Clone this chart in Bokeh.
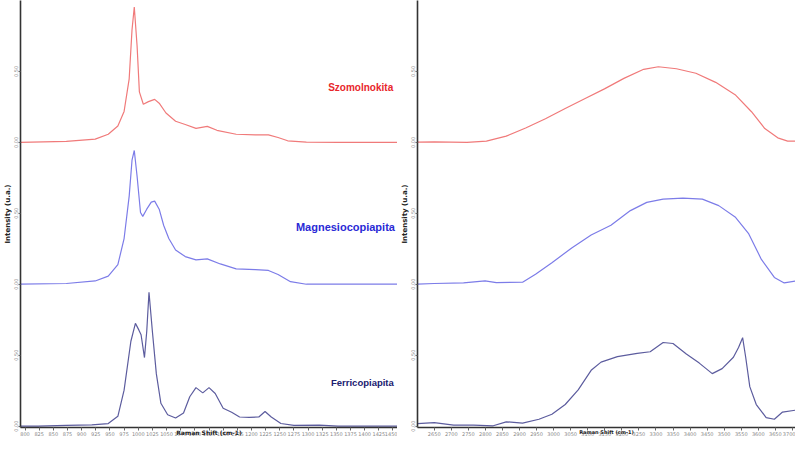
from bokeh.plotting import figure
from bokeh.models import Label, FixedTicker
from bokeh.layouts import row
from bokeh.embed import file_html
from bokeh.resources import INLINE

# ---------------- data (relative intensity, u.a.) ----------------
names = ["Szomolnokita", "Magnesiocopiapita", "Ferricopiapita"]
stack_offsets = [2.0, 1.0, 0.0]

# 800-1450 cm-1 region
szo_low_wn = [789, 873, 924, 947, 964, 975, 984, 989, 993, 998, 1002, 1009, 1018, 1029, 1037,
              1049, 1066, 1083, 1102, 1122, 1139, 1173, 1207, 1230, 1247, 1264, 1297, 1353, 1459]
szo_low_i = [0.000, 0.007, 0.023, 0.057, 0.115, 0.218, 0.448, 0.793, 0.954, 0.678, 0.356, 0.269,
             0.287, 0.303, 0.276, 0.207, 0.149, 0.126, 0.099, 0.113, 0.085, 0.057, 0.053, 0.053,
             0.034, 0.011, 0.002, 0.000, 0.000]

mag_low_wn = [789, 873, 924, 947, 964, 975, 984, 989, 993, 998, 1004, 1008, 1015, 1023, 1029,
              1037, 1045, 1054, 1066, 1083, 1102, 1122, 1145, 1173, 1207, 1230, 1247, 1269, 1297, 1459]
mag_low_i = [0.000, 0.005, 0.023, 0.057, 0.138, 0.322, 0.621, 0.874, 0.943, 0.759, 0.506, 0.478,
             0.529, 0.579, 0.586, 0.529, 0.414, 0.322, 0.241, 0.195, 0.172, 0.179, 0.143, 0.108,
             0.103, 0.097, 0.069, 0.018, 0.000, 0.000]

fer_low_wn = [789, 823, 873, 918, 947, 964, 975, 987, 995, 1001, 1005, 1011, 1015, 1019, 1025,
              1032, 1040, 1052, 1066, 1080, 1091, 1102, 1114, 1125, 1136, 1150, 1165, 1179, 1196,
              1213, 1224, 1235, 1252, 1275, 1320, 1353, 1459]
fer_low_i = [0.000, 0.000, 0.005, 0.009, 0.018, 0.069, 0.253, 0.598, 0.724, 0.678, 0.644, 0.483,
             0.667, 0.943, 0.667, 0.368, 0.161, 0.080, 0.057, 0.092, 0.207, 0.271, 0.234, 0.271,
             0.230, 0.126, 0.097, 0.064, 0.062, 0.064, 0.103, 0.064, 0.018, 0.005, 0.007, 0.000, 0.000]

# 2650-3700 cm-1 region (OH stretching)
szo_high_wn = [2601, 2650, 2746, 2803, 2861, 2918, 2976, 3034, 3091, 3149, 3206, 3264, 3307,
               3360, 3417, 3475, 3532, 3580, 3619, 3657, 3686, 3709]
szo_high_i = [0.002, 0.004, 0.000, 0.009, 0.044, 0.101, 0.166, 0.239, 0.308, 0.377, 0.451, 0.515,
              0.533, 0.519, 0.487, 0.423, 0.336, 0.216, 0.097, 0.032, 0.009, 0.009]

mag_high_wn = [2601, 2650, 2736, 2799, 2832, 2909, 2947, 2995, 3053, 3110, 3168, 3225, 3273,
               3321, 3379, 3436, 3484, 3532, 3571, 3609, 3647, 3676, 3709]
mag_high_i = [0.000, 0.005, 0.009, 0.023, 0.011, 0.014, 0.071, 0.152, 0.255, 0.347, 0.416, 0.519,
              0.577, 0.600, 0.607, 0.600, 0.554, 0.474, 0.359, 0.175, 0.048, 0.009, 0.023]

fer_high_wn = [2601, 2650, 2707, 2765, 2823, 2861, 2909, 2957, 2995, 3034, 3072, 3110, 3139,
               3187, 3245, 3283, 3321, 3350, 3389, 3427, 3465, 3494, 3527, 3542, 3554, 3563,
               3575, 3594, 3623, 3647, 3671, 3709]
fer_high_i = [0.018, 0.025, 0.007, 0.007, 0.002, 0.030, 0.021, 0.048, 0.083, 0.152, 0.255, 0.393,
              0.451, 0.490, 0.513, 0.524, 0.589, 0.582, 0.508, 0.444, 0.370, 0.405, 0.485, 0.554,
              0.623, 0.485, 0.278, 0.152, 0.060, 0.048, 0.099, 0.112]

left_xticks = list(range(800, 1451, 25))
right_xticks = list(range(2650, 3701, 50))
y_tick_pos = [0.0, 0.5, 1.0, 1.5, 2.0, 2.5]
y_tick_labels = ["0.00", "0.50", "0.00", "0.50", "0.00", "0.50"]
x_title = "Raman Shift (cm-1)"
y_title = "Intensity (u.a.)"

line_colors = ["#f07a7a", "#7c7ce8", "#5c5c9e"]
text_colors = ["#e8262c", "#2a2ad6", "#202070"]
label_sizes = ["10px", "11px", "9.5px"]
label_x = [1393, 1366, 1396]
label_y = [2.39, 1.40, 0.305]

FONT = "Liberation Sans"


def style(p, xticks, xtitle_size):
    p.outline_line_color = None
    p.grid.grid_line_color = None
    p.background_fill_color = "white"
    p.border_fill_color = "white"
    for ax in (p.xaxis[0], p.yaxis[0]):
        ax.axis_line_color = "#333333"
        ax.axis_line_width = 1.6
        ax.major_tick_line_color = "#666666"
        ax.minor_tick_line_color = None
        ax.major_label_text_color = "#888888"
        ax.axis_label_text_color = "#222222"
        ax.axis_label_text_font_style = "bold"
        ax.axis_label_text_font = "DejaVu Sans"
        ax.major_label_text_font = "DejaVu Sans"
    p.xaxis.ticker = FixedTicker(ticks=xticks)
    p.xaxis.major_tick_out = 3
    p.xaxis.major_tick_in = 0
    p.xaxis.major_label_text_font_size = "5px"
    p.xaxis.major_label_standoff = 1
    p.xaxis.axis_label_text_font_size = xtitle_size
    p.xaxis.axis_label_standoff = -10
    p.yaxis.ticker = FixedTicker(ticks=y_tick_pos)
    p.yaxis.major_label_overrides = {t: l for t, l in zip(y_tick_pos, y_tick_labels)}
    p.yaxis.major_tick_out = 2
    p.yaxis.major_tick_in = 0
    p.yaxis.major_label_text_font_size = "5px"
    p.yaxis.major_label_orientation = "vertical"
    p.yaxis.major_label_standoff = 0
    p.yaxis.axis_label_text_font_size = "7px"
    p.yaxis.axis_label_standoff = 0


H = 438
left = figure(width=397, height=H, output_backend="svg", toolbar_location=None,
              x_range=(792, 1458), y_range=(-0.01, 3.0),
              x_axis_label=x_title, y_axis_label=y_title,
              min_border_left=0, min_border_right=0, min_border_top=0, min_border_bottom=0)
right = figure(width=398, height=H, output_backend="svg", toolbar_location=None,
               x_range=(2601, 3709), y_range=(-0.01, 3.0),
               x_axis_label=x_title, y_axis_label=y_title,
               min_border_left=0, min_border_right=0, min_border_top=0, min_border_bottom=0)
style(left, left_xticks, "6px")
style(right, right_xticks, "5px")

low = [(szo_low_wn, szo_low_i), (mag_low_wn, mag_low_i), (fer_low_wn, fer_low_i)]
high = [(szo_high_wn, szo_high_i), (mag_high_wn, mag_high_i), (fer_high_wn, fer_high_i)]

for k in range(3):
    off = stack_offsets[k]
    wx, wi = low[k]
    left.line(wx, [v + off for v in wi], line_color=line_colors[k], line_width=1.2)
    hx, hi = high[k]
    right.line(hx, [v + off for v in hi], line_color=line_colors[k], line_width=1.2)
    left.add_layout(Label(x=label_x[k], y=label_y[k], text=names[k], text_color=text_colors[k],
                          text_font=FONT, text_font_style="bold", text_font_size=label_sizes[k],
                          text_align="center", text_baseline="middle"))

p = row(left, right)
open("out.html", "w").write(file_html(p, INLINE))
